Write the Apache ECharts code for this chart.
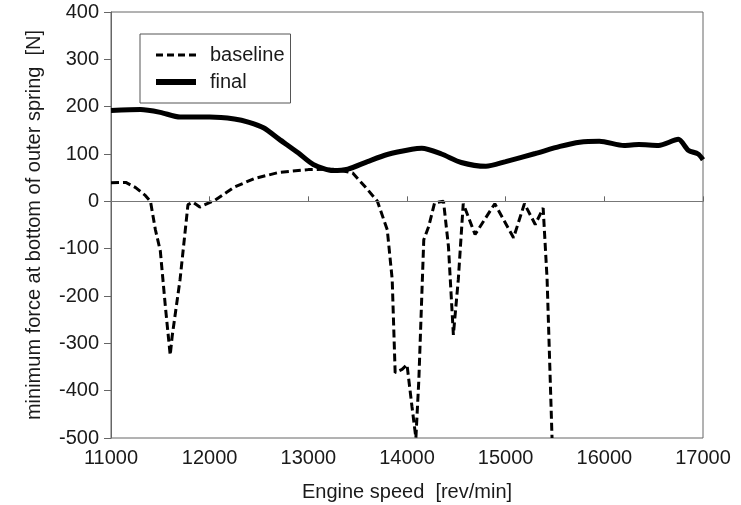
<!DOCTYPE html>
<html>
<head>
<meta charset="utf-8">
<script src="https://cdn.jsdelivr.net/npm/echarts@6/dist/echarts.min.js"></script>
<style>
  html, body { margin: 0; padding: 0; background: #fff; }
  #chart { width: 741px; height: 505px; }
</style>
</head>
<body>
<div id="chart"></div>
<script>
// Engine speed samples [rev/min] and minimum spring force [N]
const baselineRpm = [11000, 11150, 11250, 11350, 11400, 11450, 11500, 11550, 11600, 11620, 11700, 11780, 11830, 11900, 12050, 12250, 12450, 12700, 13000, 13250, 13450, 13600, 13700, 13800, 13850, 13880, 13950, 14000, 14050, 14090, 14120, 14170, 14220, 14280, 14370, 14420, 14470, 14520, 14570, 14690, 14890, 15080, 15190, 15300, 15380, 15420, 15470];
const baselineForce = [39, 40, 29, 12, 0, -60, -105, -220, -325, -285, -165, -7, -2, -12, 2, 30, 48, 61, 67, 68, 60, 25, 0, -60, -165, -362, -355, -345, -433, -500, -377, -81, -53, -3, 0, -95, -282, -165, -5, -70, -5, -77, -5, -49, -14, -165, -500];

const finalRpm = [11000, 11300, 11500, 11700, 12000, 12250, 12400, 12550, 12700, 12900, 13050, 13250, 13400, 13600, 13800, 14050, 14150, 14350, 14550, 14800, 15000, 15300, 15550, 15750, 15950, 16200, 16350, 16550, 16750, 16850, 16950, 17000];
const finalForce = [192, 194, 188, 178, 178, 174, 167, 155, 132, 102, 78, 65, 68, 84, 99, 110, 112, 100, 82, 74, 84, 101, 116, 125, 127, 118, 120, 118, 131, 108, 100, 88];

const xTicks = [11000, 12000, 13000, 14000, 15000, 16000, 17000];
const yTicks = [-500, -400, -300, -200, -100, 0, 100, 200, 300, 400];

const pair = (xs, ys) => xs.map((x, i) => [x, ys[i]]);

const textColor = '#1a1a1a';
const axisColor = '#666';
const font = 'Liberation Sans, Arial, Helvetica, sans-serif';
const plain = v => String(v);

const chart = echarts.init(document.getElementById('chart'), null, { renderer: 'canvas' });
chart.setOption({
  animation: false,
  backgroundColor: '#fff',
  textStyle: { fontFamily: font },
  grid: {
    left: 111, right: 38, top: 12, bottom: 67,
    containLabel: false,
    outerBoundsMode: 'none',
    show: true, borderColor: axisColor, borderWidth: 1, backgroundColor: 'transparent'
  },
  legend: {
    orient: 'vertical',
    left: 140, top: 34,
    padding: [11, 6, 11, 13],
    itemGap: 7,
    itemWidth: 40, itemHeight: 14,
    borderColor: '#555', borderWidth: 1,
    backgroundColor: '#fff',
    itemStyle: { color: 'rgba(0,0,0,0)', borderWidth: 0, opacity: 0 },
    textStyle: { fontSize: 20, color: textColor, fontFamily: font, padding: [0, 0, 0, 9] },
    data: [
      { name: 'baseline', lineStyle: { width: 3, type: [7, 4], color: '#000' } },
      { name: 'final', lineStyle: { width: 6, color: '#000' } }
    ]
  },
  xAxis: {
    type: 'value',
    min: xTicks[0], max: xTicks[xTicks.length - 1], interval: 1000,
    name: 'Engine speed  [rev/min]',
    nameLocation: 'middle', nameGap: 44,
    nameTextStyle: { fontSize: 20, color: textColor, fontFamily: font },
    axisLine: { show: true, lineStyle: { color: axisColor, width: 1 } },
    axisTick: { show: true, length: 5, inside: true, lineStyle: { color: axisColor } },
    axisLabel: { fontSize: 20, color: textColor, margin: 10, fontFamily: font, formatter: plain },
    splitLine: { show: false }
  },
  yAxis: {
    type: 'value',
    min: yTicks[0], max: yTicks[yTicks.length - 1], interval: 100,
    name: 'minimum force at bottom of outer spring  [N]',
    nameLocation: 'middle', nameGap: 67,
    nameTextStyle: { fontSize: 20, color: textColor, fontFamily: font },
    axisLine: { show: true, lineStyle: { color: axisColor, width: 1 } },
    axisTick: { show: true, length: 7, lineStyle: { color: axisColor } },
    axisLabel: { fontSize: 20, color: textColor, margin: 12, fontFamily: font, formatter: plain },
    splitLine: { show: false }
  },
  series: [
    {
      name: 'baseline',
      type: 'line',
      data: pair(baselineRpm, baselineForce),
      symbol: 'none',
      clip: true,
      lineStyle: { color: '#000', width: 3, type: [8, 4] },
      itemStyle: { color: '#000' },
      markLine: {
        silent: true,
        symbol: 'none',
        label: { show: false },
        lineStyle: { color: '#777', width: 1, type: 'solid' },
        data: [{ yAxis: 0 }]
      },
      z: 2
    },
    {
      name: 'final',
      type: 'line',
      data: pair(finalRpm, finalForce),
      symbol: 'none',
      smooth: 0.25,
      lineStyle: { color: '#000', width: 5 },
      itemStyle: { color: '#000' },
      z: 3
    }
  ]
});
</script>
</body>
</html>
